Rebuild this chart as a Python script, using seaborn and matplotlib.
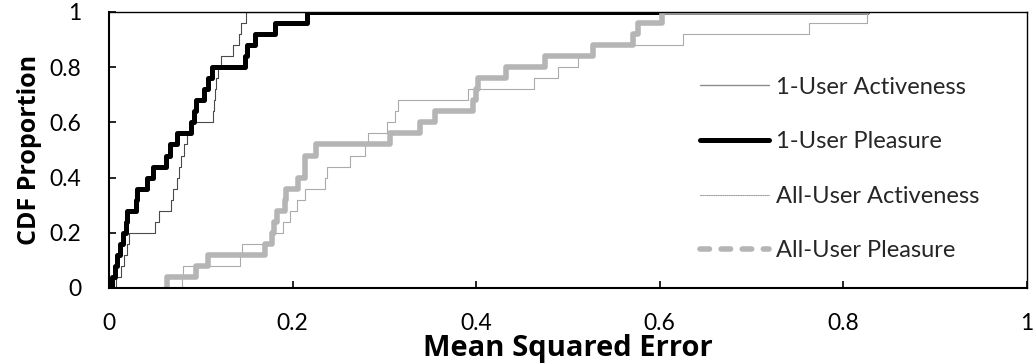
import numpy as np
import matplotlib
matplotlib.use("Agg")
import matplotlib.pyplot as plt
import seaborn as sns
from matplotlib.lines import Line2D

# ---- data ----
one_user_activeness = [0.008, 0.013, 0.016, 0.020, 0.022, 0.050, 0.055, 0.068, 0.070, 0.074,
                       0.076, 0.078, 0.082, 0.085, 0.090, 0.113, 0.114, 0.115, 0.117, 0.119,
                       0.122, 0.135, 0.142, 0.144, 0.149]
one_user_pleasure = [0.003, 0.006, 0.009, 0.012, 0.015, 0.018, 0.020, 0.029, 0.031, 0.041,
                     0.048, 0.062, 0.066, 0.074, 0.089, 0.093, 0.095, 0.104, 0.108, 0.112,
                     0.148, 0.150, 0.159, 0.181, 0.216]
all_user_activeness = [0.079, 0.081, 0.143, 0.145, 0.178, 0.190, 0.197, 0.205, 0.213, 0.235,
                       0.238, 0.263, 0.279, 0.282, 0.303, 0.312, 0.315, 0.391, 0.463, 0.489,
                       0.511, 0.525, 0.625, 0.762, 0.826]
all_user_pleasure = [0.063, 0.095, 0.108, 0.170, 0.178, 0.180, 0.183, 0.192, 0.193, 0.206,
                     0.213, 0.214, 0.225, 0.306, 0.339, 0.355, 0.397, 0.400, 0.402, 0.433,
                     0.475, 0.527, 0.571, 0.576, 0.602]
series_names = ["1-User Activeness", "1-User Pleasure", "All-User Activeness", "All-User Pleasure"]
tick_values = [0, 0.2, 0.4, 0.6, 0.8, 1]
tick_labels = ["0", "0.2", "0.4", "0.6", "0.8", "1"]
x_label = "Mean Squared Error"
y_label = "CDF Proportion"

# ---- styling ----
sns.set_theme(style="white")
plt.rcParams["font.family"] = ["Lato", "DejaVu Sans"]

series_data = [one_user_activeness, one_user_pleasure, all_user_activeness, all_user_pleasure]
styles = [
    dict(color="#4a4a4a", lw=0.8),
    dict(color="#000000", lw=3.6),
    dict(color="#ababab", lw=0.8),
    dict(color="#b5b5b5", lw=4.0),
]
legend_styles = [
    dict(color="#8c8c8c", lw=1.0, ls="-"),
    dict(color="#000000", lw=3.6, ls="-"),
    dict(color="#a0a0a0", lw=0.8, ls=(0, (1, 1))),
    dict(color="#b5b5b5", lw=4.0, ls=(0, (1.7, 2.1))),
]

fig = plt.figure(figsize=(10.34, 3.64), dpi=100)
ax = fig.add_axes([109 / 1034, 1 - 288 / 364, 918 / 1034, 276 / 364])

x_end = max(max(s) for s in series_data)
for vals, st in zip(series_data, styles):
    sns.ecdfplot(x=vals, ax=ax, color=st["color"], linewidth=st["lw"])
    sns.lineplot(x=[max(vals), x_end], y=[1, 1], ax=ax, color=st["color"],
                 linewidth=st["lw"], estimator=None, sort=False)

ax.set_xlim(0, 1)
ax.set_ylim(0, 1)
ax.set_xticks(tick_values)
ax.set_xticklabels(tick_labels)
ax.set_yticks(tick_values)
ax.set_yticklabels(tick_labels)
ax.tick_params(axis="both", which="major", direction="in", length=5, width=1.2,
               color="black", labelsize=16.5, labelcolor="black")
ax.tick_params(axis="y", pad=20, left=True)
ax.tick_params(axis="x", pad=18, bottom=True)
for sp in ax.spines.values():
    sp.set_visible(True)
    sp.set_color("black")
    sp.set_linewidth(1.0)
ax.spines["left"].set_linewidth(1.5)
ax.spines["bottom"].set_linewidth(1.5)

ax.set_xlabel(x_label, fontsize=21, fontweight="bold", color="black", labelpad=0,
              family=["Open Sans", "DejaVu Sans"])
ax.set_ylabel(y_label, fontsize=18, fontweight="bold", color="black", labelpad=5,
              family=["Open Sans", "DejaVu Sans"])

handles = [Line2D([0], [0], solid_capstyle="round", dash_capstyle="round", **ls) for ls in legend_styles]
ax.legend(handles, series_names, loc="center left", bbox_to_anchor=(0.644, 0.431),
          frameon=False, fontsize=17, handlelength=2.9, handletextpad=0.3,
          labelspacing=1.42, borderpad=0, borderaxespad=0)

fig.savefig("out.png", dpi=100)
